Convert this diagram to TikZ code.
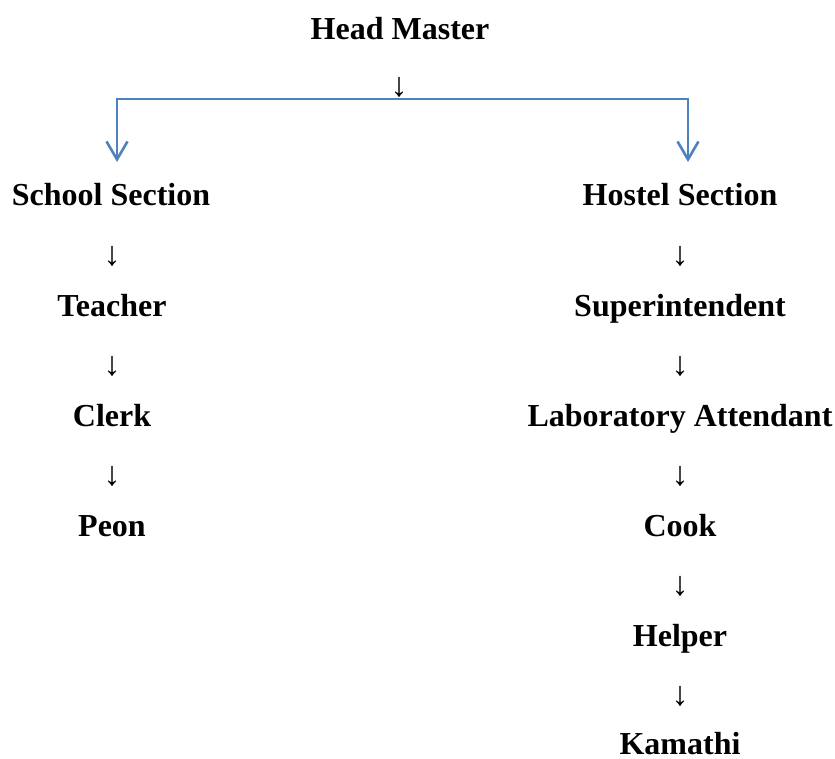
\documentclass[tikz,border=0pt]{standalone}
\usepackage{fontspec}
\setmainfont{Liberation Serif}
\usetikzlibrary{arrows.meta,positioning}
\usepackage{xcolor}
\definecolor{LinkBlue}{HTML}{4F81BD}

\begin{document}
\begin{tikzpicture}[x=1pt, y=-1pt,
  lbl/.style={anchor=base, inner sep=0pt, font=\fontsize{32}{38}\selectfont\bfseries},
  dwn/.style={anchor=base, inner sep=0pt, font=\fontsize{34}{38}\selectfont},
  link/.style={draw=LinkBlue, line width=2.6pt,
               -{Straight Barb[length=18pt, width=21pt, line width=2.6pt]}}
]
  \useasboundingbox (0,0) rectangle (835,758);
  \node[lbl] (hm) at (400,39) {Head Master};
  \node[dwn] (hmdn) at (399,96) {↓};
  \coordinate (fork) at (399,99);
  \coordinate (schtip) at (117,162);
  \coordinate (hostip) at (688,162);
  \draw[link] (fork) -| (schtip);
  \draw[link] (fork) -| (hostip);

  \node[lbl] (sch) at (111,205) {School Section};
  \node[dwn] (schdn) at (112,265) {↓};
  \node[lbl] (tea) at (112,316) {Teacher};
  \node[dwn] (teadn) at (112,375) {↓};
  \node[lbl] (clk) at (112,426) {Clerk};
  \node[dwn] (clkdn) at (112,485) {↓};
  \node[lbl] (peo) at (112,536) {Peon};

  \node[lbl] (hos) at (680,205) {Hostel Section};
  \node[dwn] (hosdn) at (680,265) {↓};
  \node[lbl] (sup) at (680,316) {Superintendent};
  \node[dwn] (supdn) at (680,375) {↓};
  \node[lbl] (lab) at (680,426) {Laboratory Attendant};
  \node[dwn] (labdn) at (680,485) {↓};
  \node[lbl] (coo) at (680,536) {Cook};
  \node[dwn] (coodn) at (680,595) {↓};
  \node[lbl] (hel) at (680,646) {Helper};
  \node[dwn] (heldn) at (680,705) {↓};
  \node[lbl] (kam) at (680,754) {Kamathi};
\end{tikzpicture}
\end{document}
